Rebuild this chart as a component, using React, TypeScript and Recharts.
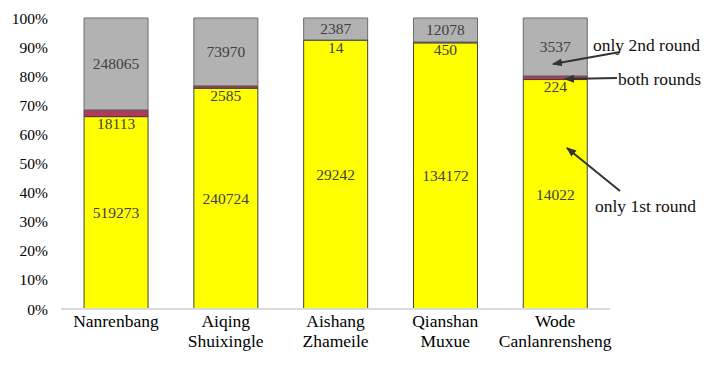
import React from "react"
import { BarChart, Bar, XAxis, YAxis, LabelList } from "recharts"

const songs = ["Nanrenbang", "Aiqing Shuixingle", "Aishang Zhameile", "Qianshan Muxue", "Wode Canlanrensheng"]
const only1st = [519273, 240724, 29242, 134172, 14022]
const bothRounds = [18113, 2585, 14, 450, 224]
const only2nd = [248065, 73970, 2387, 12078, 3537]
const yTicks = [0, 0.1, 0.2, 0.3, 0.4, 0.5, 0.6, 0.7, 0.8, 0.9, 1]

const data = songs.map((name, i) => ({
  name,
  first: only1st[i],
  both: bothRounds[i],
  second: only2nd[i],
}))

const FONT = "'Liberation Serif', 'Times New Roman', serif"
const LABEL_COLOR = "#404040"

function CategoryTick(props: any) {
  const { x, y, payload } = props
  const lines = String(payload.value).split(" ")
  return (
    <text x={x} y={y} textAnchor="middle" fontFamily={FONT} fontSize={17.5} fill="#000">
      {lines.map((l, i) => (
        <tspan key={i} x={x} dy={i === 0 ? 16 : 20}>
          {l}
        </tspan>
      ))}
    </text>
  )
}

function BelowLabel(props: any) {
  const { x, y, width, height, value } = props
  return (
    <text
      x={x + width / 2}
      y={y + height + 7}
      textAnchor="middle"
      dominantBaseline="central"
      fontFamily={FONT}
      fontSize={15.5}
      fill={LABEL_COLOR}
    >
      {value}
    </text>
  )
}

function Annotations() {
  const txt = { fontFamily: FONT, fontSize: 17.5, fill: "#111" }
  return (
    <svg width={706} height={368} style={{ position: "absolute", left: 0, top: 0, pointerEvents: "none" }}>
      <defs>
        <marker id="arr" viewBox="0 0 10 10" refX="9" refY="5" markerWidth="5" markerHeight="5" orient="auto">
          <path d="M0,1 L10,5 L0,9 z" fill="#333" />
        </marker>
      </defs>
      <line x1={620} y1={52} x2={553} y2={64} stroke="#333" strokeWidth={2} markerEnd="url(#arr)" />
      <line x1={617} y1={78} x2={565} y2={79} stroke="#333" strokeWidth={2} markerEnd="url(#arr)" />
      <line x1={620} y1={191} x2={567} y2={148} stroke="#333" strokeWidth={2} markerEnd="url(#arr)" />
      <text x={593} y={51} {...txt}>only 2nd round</text>
      <text x={618} y={85} {...txt}>both rounds</text>
      <text x={595} y={212} {...txt}>only 1st round</text>
    </svg>
  )
}

export default function App() {
  return (
    <div style={{ position: "absolute", left: 0, top: 0, width: 706, height: 368, background: "#fff" }}>
      <BarChart
        width={706}
        height={368}
        data={data}
        stackOffset="expand"
        barCategoryGap="21%"
        margin={{ top: 18, right: 96, bottom: 9, left: 8 }}
      >
        <XAxis
          dataKey="name"
          interval={0}
          height={50}
          tickLine={false}
          tickSize={0}
          axisLine={{ stroke: "#D6DCDF", strokeWidth: 2 }}
          tick={<CategoryTick />}
        />
        <YAxis
          width={53}
          domain={[0, 1]}
          ticks={yTicks}
          tickFormatter={(v: number) => `${Math.round(v * 100)}%`}
          axisLine={false}
          tickLine={false}
          tickSize={0}
          tickMargin={13}
          tick={{ fontFamily: FONT, fontSize: 15.5, fill: "#000" }}
        />
        <Bar dataKey="first" stackId="a" fill="#FFFF00" stroke="#404040" strokeWidth={1} isAnimationActive={false}>
          <LabelList dataKey="first" position="center" fontFamily={FONT} fontSize={15.5} fill={LABEL_COLOR} />
        </Bar>
        <Bar dataKey="both" stackId="a" fill="#B0385A" stroke="#404040" strokeWidth={1} isAnimationActive={false}>
          <LabelList dataKey="both" content={<BelowLabel />} />
        </Bar>
        <Bar dataKey="second" stackId="a" fill="#B2B2B2" stroke="#6a6a6a" strokeWidth={1} isAnimationActive={false}>
          <LabelList dataKey="second" position="center" fontFamily={FONT} fontSize={15.5} fill={LABEL_COLOR} />
        </Bar>
      </BarChart>
      <Annotations />
    </div>
  )
}
